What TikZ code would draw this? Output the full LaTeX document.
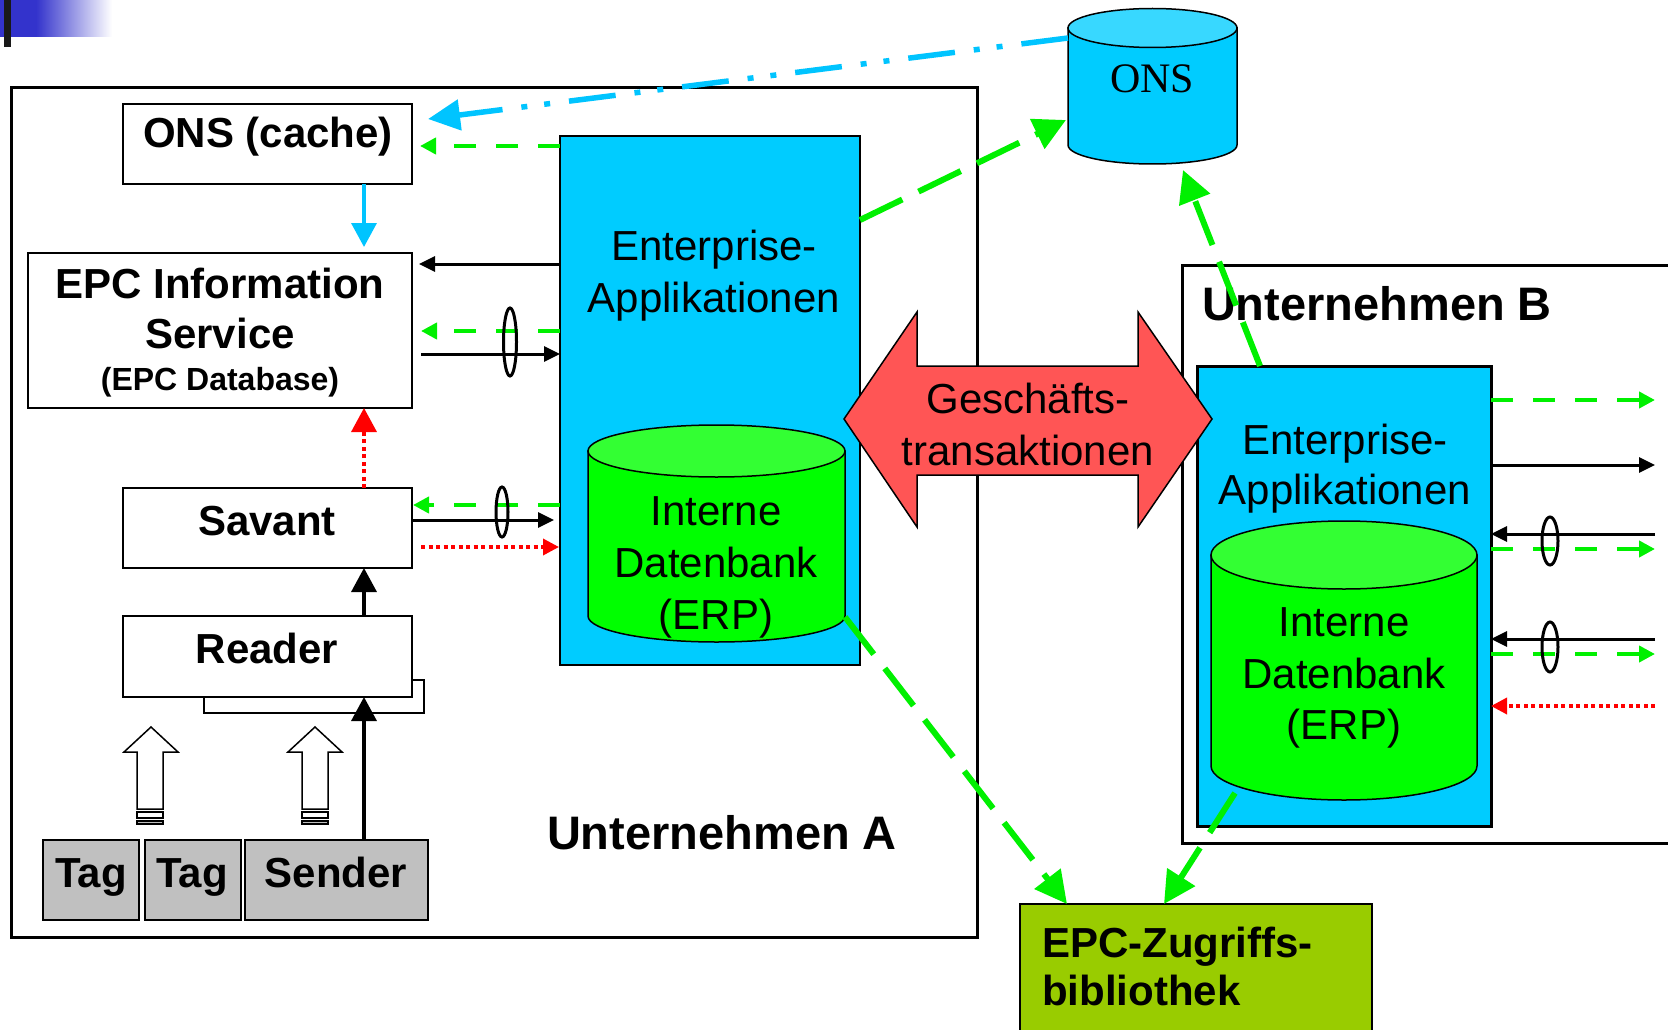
\documentclass[tikz,border=0pt]{standalone}
\usepackage{fontspec}
\setmainfont{Liberation Sans}
\newfontfamily\onsserif{Liberation Serif}
\usetikzlibrary{arrows.meta}
\definecolor{cyanbox}{HTML}{00CCFF}
\definecolor{cyantop}{HTML}{38D8FF}
\definecolor{cylgreen}{HTML}{00FF00}
\definecolor{cyltop}{HTML}{33FF33}
\definecolor{lnkgreen}{HTML}{00F000}
\definecolor{lnkcyan}{HTML}{00C4FF}
\definecolor{tagray}{HTML}{C0C0C0}
\definecolor{epcgreen}{HTML}{99CC00}
\definecolor{bigred}{HTML}{FF5555}
\definecolor{slideblue}{HTML}{3333CC}
\newcommand\fszB{\fontsize{42}{50}\selectfont\bfseries}
\newcommand\fszR{\fontsize{42}{50}\selectfont}
\newcommand\fszU{\fontsize{47}{56}\selectfont\bfseries}
\newcommand\fszS{\fontsize{32}{38}\selectfont\bfseries}
\newcommand\fszO{\fontsize{42}{50}\selectfont\onsserif}
\begin{document}
\begin{tikzpicture}[x=1pt,y=-1pt,line join=miter,
  box/.style={draw, line width=1.5pt, fill=white, inner sep=0pt, outer sep=0pt, anchor=north west},
  txt/.style={inner sep=0pt, outer sep=0pt, anchor=base},
  gdash/.style={draw=lnkgreen, line width=4pt, dash pattern=on 22pt off 20pt, -{Triangle[length=16pt,width=16pt]}},
  gdashL/.style={draw=lnkgreen, line width=6pt, dash pattern=on 47pt off 18pt, -{Triangle[length=32pt,width=32pt]}},
  blk/.style={draw=black, line width=3pt, -{Triangle[length=16pt,width=15pt]}},
  blkM/.style={draw=black, line width=3.5pt, -{Triangle[length=24pt,width=25pt]}},
  rdot/.style={draw=red, line width=3.5pt, dash pattern=on 4pt off 3.5pt, -{Triangle[length=16pt,width=16pt]}},
  rdotM/.style={draw=red, line width=3.5pt, dash pattern=on 4pt off 3.5pt, -{Triangle[length=24pt,width=25pt]}},
  cdot/.style={draw=lnkcyan, line width=5.5pt, dash pattern=on 47pt off 19pt on 6pt off 17pt on 6pt off 19pt, -{Triangle[length=32pt,width=30pt]}},
  csol/.style={draw=lnkcyan, line width=3.5pt, -{Triangle[length=24pt,width=25pt]}},
  bundle/.style={draw=black, line width=3pt}]
\useasboundingbox (0,0) rectangle (1668,1030);
\clip (0,0) rectangle (1668,1030);

% slide decoration
\fill[slideblue] (0,0) rectangle (36,37);
\shade[left color=slideblue, right color=white] (36,0) rectangle (112,37);
\fill[black!90] (4,0) rectangle (11,47);

% company frames
\node[box, line width=3pt, fill=none, minimum width=966pt, minimum height=849pt] (compA) at (11,88) {};
\node[box, line width=3pt, fill=none, minimum width=540pt, minimum height=578pt] (compB) at (1182,265) {};
\node[txt, font=\fszU] (compAt) at (722,849) {Unternehmen A};
\node[txt, anchor=base west, font=\fszU] (compBt) at (1202,320) {Unternehmen B};

% left stack
\node[box, minimum width=289pt, minimum height=80pt] (onsc) at (123,104) {};
\node[txt, font=\fszB] (onsct) at (268,148) {ONS (cache)};
\node[box, minimum width=384pt, minimum height=155pt] (epis) at (28,253) {};
\node[txt, font=\fszB] (epis1) at (220,298) {EPC Information};
\node[txt, font=\fszB] (epis2) at (220,348) {Service};
\node[txt, font=\fszS] (epis3) at (220,390) {(EPC Database)};
\node[box, minimum width=289pt, minimum height=80pt] (savant) at (123,488) {};
\node[txt, font=\fszB] (savantt) at (267,535) {Savant};
\node[box, minimum width=220pt, minimum height=33pt] (readerback) at (204,680) {};
\node[box, minimum width=289pt, minimum height=81pt] (reader) at (123,616) {};
\node[txt, font=\fszB] (readert) at (267,663) {Reader};
\node[box, fill=tagray, minimum width=96pt, minimum height=80pt] (tag1) at (43,840) {};
\node[box, fill=tagray, minimum width=96pt, minimum height=80pt] (tag2) at (145,840) {};
\node[box, fill=tagray, minimum width=183pt, minimum height=80pt] (sender) at (245,840) {};
\node[txt, font=\fszB] (tag1t) at (91,887) {Tag};
\node[txt, font=\fszB] (tag2t) at (192,887) {Tag};
\node[txt, font=\fszB] (sendert) at (336,887) {Sender};

% hollow block arrows (tags -> reader)
\draw[line width=1.5pt, fill=white] (151,727) -- (178,752) -- (163,752) -- (163,809) -- (137,809) -- (137,752) -- (124,752) -- cycle;
\draw[line width=1.2pt, fill=white] (137,812) rectangle (163,818);
\draw[line width=1.2pt, fill=gray!50] (137,821) rectangle (163,824);
\draw[line width=1.5pt, fill=white] (315,727) -- (342,752) -- (328,752) -- (328,809) -- (302,809) -- (302,752) -- (288,752) -- cycle;
\draw[line width=1.2pt, fill=white] (302,812) rectangle (328,818);
\draw[line width=1.2pt, fill=gray!50] (302,821) rectangle (328,824);

% enterprise A
\node[box, fill=cyanbox, minimum width=300pt, minimum height=529pt] (eaA) at (560,136) {};
\node[txt, font=\fszR] (eaA1) at (714,260) {Enterprise-};
\node[txt, font=\fszR] (eaA2) at (714,312) {Applikationen};
\draw[line width=1.5pt, fill=cylgreen] (588,451) -- (588,616) .. controls (588,630.4) and (645.5,642) .. (716.5,642) .. controls (787.5,642) and (845,630.4) .. (845,616) -- (845,451) -- cycle;
\draw[line width=1.5pt, fill=cyltop] (716.5,451) ellipse [x radius=128.5, y radius=26];
\node[txt, font=\fszR] (dbA1) at (716,525) {Interne};
\node[txt, font=\fszR] (dbA2) at (716,577) {Datenbank};
\node[txt, font=\fszR] (dbA3) at (716,629) {(ERP)};

% enterprise B
\node[box, fill=cyanbox, line width=3pt, minimum width=294pt, minimum height=460pt] (eaB) at (1197,366) {};
\node[txt, font=\fszR] (eaB1) at (1345,454) {Enterprise-};
\node[txt, font=\fszR] (eaB2) at (1345,504) {Applikationen};
\draw[line width=1.5pt, fill=cylgreen] (1211,555) -- (1211,766) .. controls (1211,784.8) and (1270.5,800) .. (1344,800) .. controls (1417.5,800) and (1477,784.8) .. (1477,766) -- (1477,555) -- cycle;
\draw[line width=1.5pt, fill=cyltop] (1344,555) ellipse [x radius=133, y radius=34];
\node[txt, font=\fszR] (dbB1) at (1344,636) {Interne};
\node[txt, font=\fszR] (dbB2) at (1344,688) {Datenbank};
\node[txt, font=\fszR] (dbB3) at (1344,739) {(ERP)};

% ONS root
\draw[line width=1.5pt, fill=cyanbox] (1068,28) -- (1068,145) .. controls (1068,155.5) and (1105.8,164) .. (1152.5,164) .. controls (1199.2,164) and (1237,155.5) .. (1237,145) -- (1237,28) -- cycle;
\draw[line width=1.5pt, fill=cyantop] (1152.5,28) ellipse [x radius=84.5, y radius=19.5];
\node[txt, font=\fszO] (onst) at (1152,93) {ONS};

% EPC access library
\node[box, fill=epcgreen, line width=2pt, minimum width=352pt, minimum height=140pt] (epc) at (1020,904) {};
\node[txt, anchor=base west, font=\fszB] (epc1) at (1042,957) {EPC-Zugriffs-};
\node[txt, anchor=base west, font=\fszB] (epc2) at (1042,1005) {bibliothek};

% business transactions double arrow
\draw[line width=1.5pt, fill=bigred] (844,419) -- (917,312) -- (917,366) -- (1138,366) -- (1138,312) -- (1212,419) -- (1138,527) -- (1138,475) -- (917,475) -- (917,527) -- cycle;
\node[txt, font=\fszR] (gt1) at (1028,413) {Geschäfts-};
\node[txt, font=\fszR] (gt2) at (1028,465) {transaktionen};

% connector end points
\coordinate (onsL) at (1068,38);
\coordinate (onscIn) at (428,119);
\coordinate (eaAg1) at (560,146);
\coordinate (onscG) at (420,146);
\coordinate (onscB) at (364,184);
\coordinate (episT) at (364,247);
\coordinate (eaAk1) at (560,264);
\coordinate (episk1) at (419,264);
\coordinate (eaAg2) at (560,331);
\coordinate (episg2) at (421,331);
\coordinate (episk2) at (421,354);
\coordinate (eaAk2) at (560,354);
\coordinate (savT) at (364,488);
\coordinate (episB) at (364,408);
\coordinate (eaAg3) at (560,505);
\coordinate (savg) at (413,505);
\coordinate (savk) at (412,520);
\coordinate (eaAk3) at (554,520);
\coordinate (savr) at (421,547);
\coordinate (eaAr) at (559,547);
\coordinate (readT) at (364,616);
\coordinate (savB) at (364,568);
\coordinate (sendT) at (364,840);
\coordinate (readB) at (364,697);
\coordinate (eaAR) at (860,220);
\coordinate (onsW) at (1066,120);
\coordinate (eaBT) at (1260,366);
\coordinate (onsS) at (1183,170);
\coordinate (dbAR) at (845,617);
\coordinate (epcA) at (1067,904);
\coordinate (dbBB) at (1235,793);
\coordinate (epcB) at (1164,904);

% left side connectors
\draw[cdot] (onsL) -- (onscIn);
\draw[gdash] (eaAg1) -- (onscG);
\draw[csol] (onscB) -- (episT);
\draw[blk] (eaAk1) -- (episk1);
\draw[gdash] (eaAg2) -- (episg2);
\draw[blk] (episk2) -- (eaAk2);
\draw[bundle] (510,342) ellipse [x radius=6.5, y radius=34];
\draw[rdotM] (savT) -- (episB);
\draw[gdash] (eaAg3) -- (savg);
\draw[blk] (savk) -- (eaAk3);
\draw[bundle] (502,512) ellipse [x radius=6, y radius=25];
\draw[rdot] (savr) -- (eaAr);
\draw[blkM] (readT) -- (savB);
\draw[blkM] (sendT) -- (readB);

% long green connectors
\draw[gdashL] (eaAR) -- (onsW);
\draw[gdashL] (eaBT) -- (onsS);
\draw[gdashL] (dbAR) -- (epcA);
\draw[gdashL] (dbBB) -- (epcB);

% right side connectors of enterprise B
\coordinate (eaBr1) at (1491,400); \coordinate (outr1) at (1655,400);
\coordinate (eaBr2) at (1491,465); \coordinate (outr2) at (1655,465);
\coordinate (eaBr3) at (1491,534); \coordinate (outr3) at (1655,534);
\coordinate (eaBr4) at (1491,549); \coordinate (outr4) at (1655,549);
\coordinate (eaBr5) at (1491,639); \coordinate (outr5) at (1655,639);
\coordinate (eaBr6) at (1491,654); \coordinate (outr6) at (1655,654);
\coordinate (eaBr7) at (1491,706); \coordinate (outr7) at (1655,706);
\draw[gdash] (eaBr1) -- (outr1);
\draw[blk] (eaBr2) -- (outr2);
\draw[blk] (outr3) -- (eaBr3);
\draw[gdash] (eaBr4) -- (outr4);
\draw[bundle] (1550,541) ellipse [x radius=8, y radius=24];
\draw[blk] (outr5) -- (eaBr5);
\draw[gdash] (eaBr6) -- (outr6);
\draw[bundle] (1550,647) ellipse [x radius=8, y radius=25];
\draw[rdot] (outr7) -- (eaBr7);
\end{tikzpicture}
\end{document}
